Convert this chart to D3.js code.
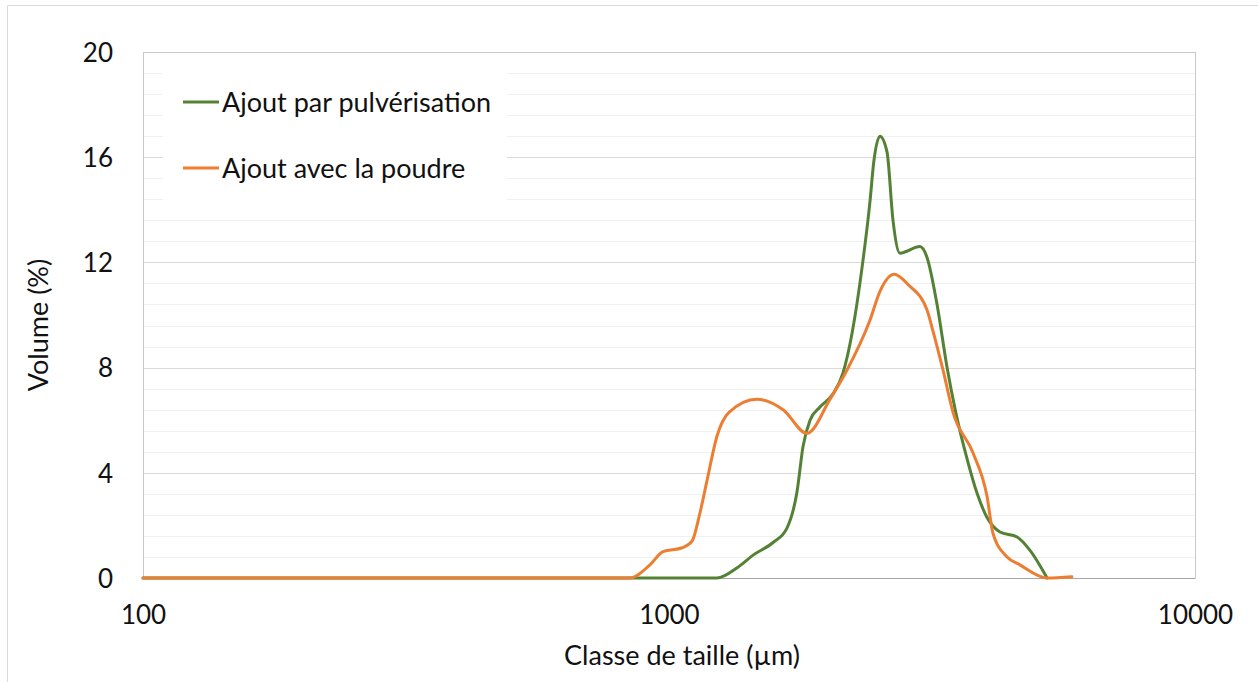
<!DOCTYPE html>
<html>
<head>
<meta charset="utf-8">
<script src="https://cdn.jsdelivr.net/npm/d3@7"></script>
<style>
  html, body { margin: 0; padding: 0; background: #fff; }
  svg { display: block; }
  text { font-family: Lato, "Noto Sans", sans-serif; fill: #111; }
</style>
</head>
<body>
<svg id="chart" width="1258" height="682"></svg>
<script>
// Particle size distribution (volume %) vs size class (µm)
const seriesNames = ["Ajout par pulvérisation", "Ajout avec la poudre"];
const seriesColors = ["#548235", "#ED7D31"];

// Ajout par pulvérisation: [size µm, volume %]
const pulverisation = [
  [100, 0], [1234, 0], [1350, 0.4], [1445, 0.87], [1577, 1.35], [1676, 1.9],
  [1752, 3.3], [1798, 5.0], [1854, 6.0], [1937, 6.5], [2050, 7.0], [2142, 7.8],
  [2228, 9.3], [2328, 11.8], [2410, 14.3], [2450, 15.8], [2518, 16.8], [2597, 16.2],
  [2666, 13.6], [2749, 12.35], [2999, 12.6], [3093, 12.2], [3233, 10.4], [3378, 8.0],
  [3500, 6.4], [3690, 4.5], [3855, 3.2], [4024, 2.3], [4258, 1.75], [4590, 1.56],
  [4853, 1.06], [5233, 0]
];

// Ajout avec la poudre: [size µm, volume %]
const poudre = [
  [100, 0], [843, 0], [920, 0.5], [974, 1.0], [1060, 1.15], [1106, 1.4],
  [1146, 2.5], [1181, 3.7], [1234, 5.4], [1300, 6.3], [1469, 6.8], [1648, 6.4],
  [1829, 5.5], [2024, 6.8], [2179, 7.9], [2410, 9.8], [2518, 10.9], [2681, 11.55],
  [2850, 11.15], [3093, 10.2], [3175, 9.4], [3319, 7.9], [3467, 6.3], [3785, 4.75],
  [4024, 3.1], [4130, 1.7], [4393, 0.8], [4646, 0.5], [5233, 0], [5834, 0.05]
];

const xTicks = [100, 1000, 10000];
const yTicks = [0, 4, 8, 12, 16, 20];
const yMinorStep = 0.8;
const xTitle = "Classe de taille (µm)";
const yTitle = "Volume (%)";

const svg = d3.select("#chart");
const plot = { left: 143, right: 1195, top: 52, bottom: 578 };

const x = d3.scaleLog().domain([100, 10000]).range([plot.left, plot.right]);
const y = d3.scaleLinear().domain([0, 20]).range([plot.bottom, plot.top]);

// outer chart frame
svg.append("path")
  .attr("d", `M7.5,682 V5.5 H1258`)
  .attr("fill", "none").attr("stroke", "#d9d9d9").attr("stroke-width", 1);

// minor gridlines
const minor = d3.range(0, 20 + 1e-9, yMinorStep).filter(v => Math.abs(v / 4 - Math.round(v / 4)) > 1e-6);
svg.append("g").selectAll("line").data(minor).join("line")
  .attr("x1", plot.left).attr("x2", plot.right)
  .attr("y1", d => Math.round(y(d)) + 0.5).attr("y2", d => Math.round(y(d)) + 0.5)
  .attr("stroke", "#f0f0f0").attr("stroke-width", 1);

// major gridlines
svg.append("g").selectAll("line").data(yTicks.filter(v => v > 0 && v < 20)).join("line")
  .attr("x1", plot.left).attr("x2", plot.right)
  .attr("y1", d => Math.round(y(d)) + 0.5).attr("y2", d => Math.round(y(d)) + 0.5)
  .attr("stroke", "#d9d9d9").attr("stroke-width", 1);

// plot area border
svg.append("rect")
  .attr("x", plot.left + 0.5).attr("y", plot.top + 0.5)
  .attr("width", plot.right - plot.left).attr("height", plot.bottom - plot.top)
  .attr("fill", "none").attr("stroke", "#c8c8c8").attr("stroke-width", 1);

// bottom axis line
svg.append("line")
  .attr("x1", plot.left).attr("x2", plot.right)
  .attr("y1", plot.bottom + 0.5).attr("y2", plot.bottom + 0.5)
  .attr("stroke", "#a6a6a6").attr("stroke-width", 1);

// y axis labels
const yAxis = d3.axisLeft(y).tickValues(yTicks).tickSize(0).tickPadding(0).tickFormat(d3.format("d"));
const gy = svg.append("g").attr("transform", `translate(113,0)`).call(yAxis);
gy.select(".domain").remove();
gy.selectAll("text").attr("font-size", 26).attr("font-family", "Lato, sans-serif").attr("dy", "0.36em").attr("fill", "#111");

// x axis labels
const xAxis = d3.axisBottom(x).tickValues(xTicks).tickSize(0).tickPadding(0).tickFormat(d3.format("d"));
const gx = svg.append("g").attr("transform", `translate(0,615)`).call(xAxis);
gx.select(".domain").remove();
gx.selectAll("text").attr("font-size", 26).attr("font-family", "Lato, sans-serif").attr("dy", "0.36em").attr("fill", "#111");

// axis titles
svg.append("text").attr("x", 682).attr("y", 655).attr("dy", "0.36em").attr("text-anchor", "middle")
  .attr("font-size", 27).text(xTitle);
svg.append("text").attr("transform", "translate(38,325) rotate(-90)").attr("dy", "0.36em").attr("text-anchor", "middle")
  .attr("font-size", 27).text(yTitle);

// series lines
const line = d3.line()
  .x(d => x(d[0])).y(d => y(d[1]))
  .curve(d3.curveMonotoneX);

[pulverisation, poudre].forEach((data, i) => {
  svg.append("path").datum(data)
    .attr("d", line)
    .attr("fill", "none")
    .attr("stroke", seriesColors[i])
    .attr("stroke-width", 3)
    .attr("stroke-linejoin", "round")
    .attr("stroke-linecap", "round");
});

// legend
const legend = svg.append("g");
legend.append("rect").attr("x", 163).attr("y", 64).attr("width", 344).attr("height", 146).attr("fill", "#fff");
const legendY = [102, 168];
seriesNames.forEach((name, i) => {
  legend.append("line").attr("x1", 183).attr("x2", 219)
    .attr("y1", legendY[i]).attr("y2", legendY[i])
    .attr("stroke", seriesColors[i]).attr("stroke-width", 3);
  legend.append("text").attr("x", 222).attr("y", legendY[i]).attr("dy", "0.36em")
    .attr("font-size", 27).text(name);
});
</script>
</body>
</html>
